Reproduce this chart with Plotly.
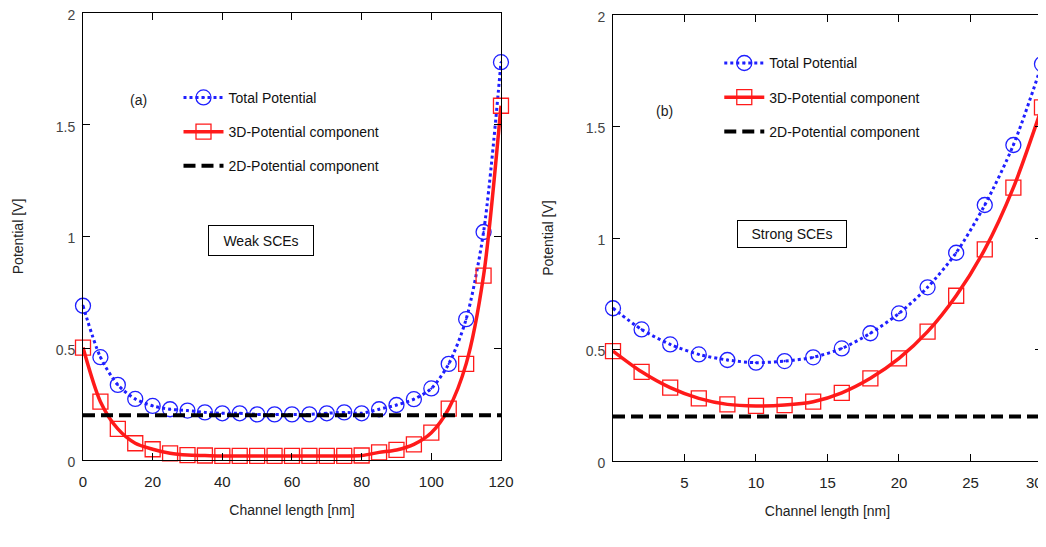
import plotly.graph_objects as go

# ---- Data: panel (a) weak SCEs ----
x_a = [0, 5, 10, 15, 20, 25, 30, 35, 40, 45, 50, 55, 60, 65, 70, 75, 80, 85, 90, 95, 100, 105, 110, 115, 120]
total_a = [0.69, 0.46, 0.336, 0.273, 0.242, 0.227, 0.221, 0.213, 0.209, 0.209, 0.204, 0.204, 0.204,
           0.204, 0.209, 0.213, 0.209, 0.227, 0.246, 0.272, 0.32, 0.43, 0.63, 1.02, 1.78]
comp3d_a = [0.503, 0.261, 0.139, 0.075, 0.048, 0.03, 0.022, 0.02, 0.018, 0.018, 0.018, 0.018, 0.018,
            0.018, 0.018, 0.018, 0.02, 0.034, 0.045, 0.07, 0.122, 0.23, 0.43, 0.825, 1.585]
comp2d_a = [0.2] * len(x_a)

# ---- Data: panel (b) strong SCEs ----
x_b = [0, 2, 4, 6, 8, 10, 12, 14, 16, 18, 20, 22, 24, 26, 28, 30]
total_b = [0.685, 0.59, 0.523, 0.478, 0.453, 0.441, 0.448, 0.465, 0.505, 0.573, 0.662, 0.779, 0.934,
           1.148, 1.417, 1.78]
comp3d_b = [0.493, 0.40, 0.329, 0.281, 0.254, 0.247, 0.251, 0.266, 0.306, 0.371, 0.46, 0.58, 0.741,
            0.949, 1.226, 1.586]
comp2d_b = [0.2] * len(x_b)

y_ticks = [0, 0.5, 1, 1.5, 2]
y_ticktext = ["0", "0.5", "1", "1.5", "2"]
x_ticks_a = [0, 20, 40, 60, 80, 100, 120]
x_ticks_b = [5, 10, 15, 20, 25, 30]
# the last label of panel (b) sits flush with the right frame (drawn as an annotation below)
x_ticktext_b = ["5", "10", "15", "20", "25", ""]
x_last_label_b = "30"

names = ["Total Potential", "3D-Potential component", "2D-Potential component"]

FONT = "Arial, Liberation Sans, sans-serif"
BLUE = "#1f1fff"
RED = "#ff1a1a"

fig = go.Figure()


def add_panel(x, total, c3, c2, xa, ya, legend):
    fig.add_trace(go.Scatter(
        x=x, y=total, xaxis=xa, yaxis=ya, name=names[0], legend=legend, legendgroup=legend + "t",
        mode="lines+markers", line=dict(color=BLUE, width=3, dash="dot", shape="spline", smoothing=0.8),
        marker=dict(symbol="circle-open-dot", size=15, color=BLUE, line=dict(width=1.3, color=BLUE)),
        cliponaxis=False))
    fig.add_trace(go.Scatter(
        x=x, y=c3, xaxis=xa, yaxis=ya, name=names[1], legend=legend, legendgroup=legend + "3",
        mode="lines+markers", line=dict(color=RED, width=3.5, shape="spline", smoothing=0.8),
        marker=dict(symbol="square-open", size=15, color=RED, line=dict(width=1.3, color=RED)),
        cliponaxis=False))
    fig.add_trace(go.Scatter(
        x=x, y=c2, xaxis=xa, yaxis=ya, name=names[2], legend=legend, legendgroup=legend + "2",
        mode="lines", line=dict(color="black", width=4, dash="12px,6px"),
        cliponaxis=False))


add_panel(x_a, total_a, comp3d_a, comp2d_a, "x", "y", "legend")
add_panel(x_b, total_b, comp3d_b, comp2d_b, "x2", "y2", "legend2")

axis_common = dict(showline=True, linecolor="black", linewidth=1, mirror="ticks", ticks="inside",
                   ticklen=7, tickcolor="black", showgrid=False, zeroline=False, automargin=False,
                   ticklabeloverflow="allow")

xtickfont = dict(family=FONT, size=15, color="#222")
ytickfont = dict(family=FONT, size=14, color="#444")

xaxis_title = dict(text="Channel length [nm]", font=dict(family=FONT, size=14, color="#222"), standoff=16)
yaxis_title = dict(text="Potential [V]", font=dict(family=FONT, size=14, color="#222"), standoff=28)

legend_common = dict(font=dict(family=FONT, size=14, color="#111"), bgcolor="rgba(0,0,0,0)",
                     tracegroupgap=13, itemwidth=40, xanchor="left", yanchor="top")

fig.update_layout(
    width=1046, height=547,
    margin=dict(l=0, r=0, t=0, b=0),
    paper_bgcolor="white", plot_bgcolor="white",
    font=dict(family=FONT),
    xaxis=dict(domain=[0.0717, 0.4713], range=[0, 120], tickvals=x_ticks_a, anchor="y",
               title=xaxis_title, ticklabelstandoff=8, tickfont=xtickfont, **axis_common),
    yaxis=dict(domain=[0.1737, 0.9909], range=[0, 2], tickvals=y_ticks, ticktext=y_ticktext, anchor="x",
               title=yaxis_title, ticklabelstandoff=4, ticklabelshift=2, tickfont=ytickfont, **axis_common),
    xaxis2=dict(domain=[0.5784, 0.9885], range=[0, 30], tickvals=x_ticks_b, ticktext=x_ticktext_b,
                anchor="y2", title=xaxis_title, ticklabelstandoff=8, tickfont=xtickfont, **axis_common),
    yaxis2=dict(domain=[0.1718, 0.9872], range=[0, 2], tickvals=y_ticks, ticktext=y_ticktext, anchor="x2",
                title=yaxis_title, ticklabelstandoff=4, ticklabelshift=2, tickfont=ytickfont, **axis_common),
    legend=dict(x=0.163, y=0.865, **legend_common),
    legend2=dict(x=0.68, y=0.928, **legend_common),
    annotations=[
        dict(text="(a)", x=15.8, y=1.61, xref="x", yref="y", showarrow=False,
             font=dict(family=FONT, size=14, color="#222")),
        dict(text="(b)", x=3.6, y=1.57, xref="x2", yref="y2", showarrow=False,
             font=dict(family=FONT, size=14, color="#222")),
        dict(text="Weak SCEs", x=51, y=0.98, xref="x", yref="y", showarrow=False,
             font=dict(family=FONT, size=14, color="#111"), bordercolor="black", borderwidth=1,
             borderpad=6, width=92, height=17, bgcolor="white"),
        dict(text="Strong SCEs", x=12.5, y=1.02, xref="x2", yref="y2", showarrow=False,
             font=dict(family=FONT, size=14, color="#111"), bordercolor="black", borderwidth=1,
             borderpad=5, width=98, height=16, bgcolor="white"),
        dict(text=x_last_label_b, x=x_ticks_b[-1], y=0, xref="x2", yref="y2", showarrow=False,
             xanchor="right", yanchor="middle", xshift=3, yshift=-21,
             font=dict(family=FONT, size=15, color="#222")),
    ],
    showlegend=True,
)

fig.write_html("out.html")
